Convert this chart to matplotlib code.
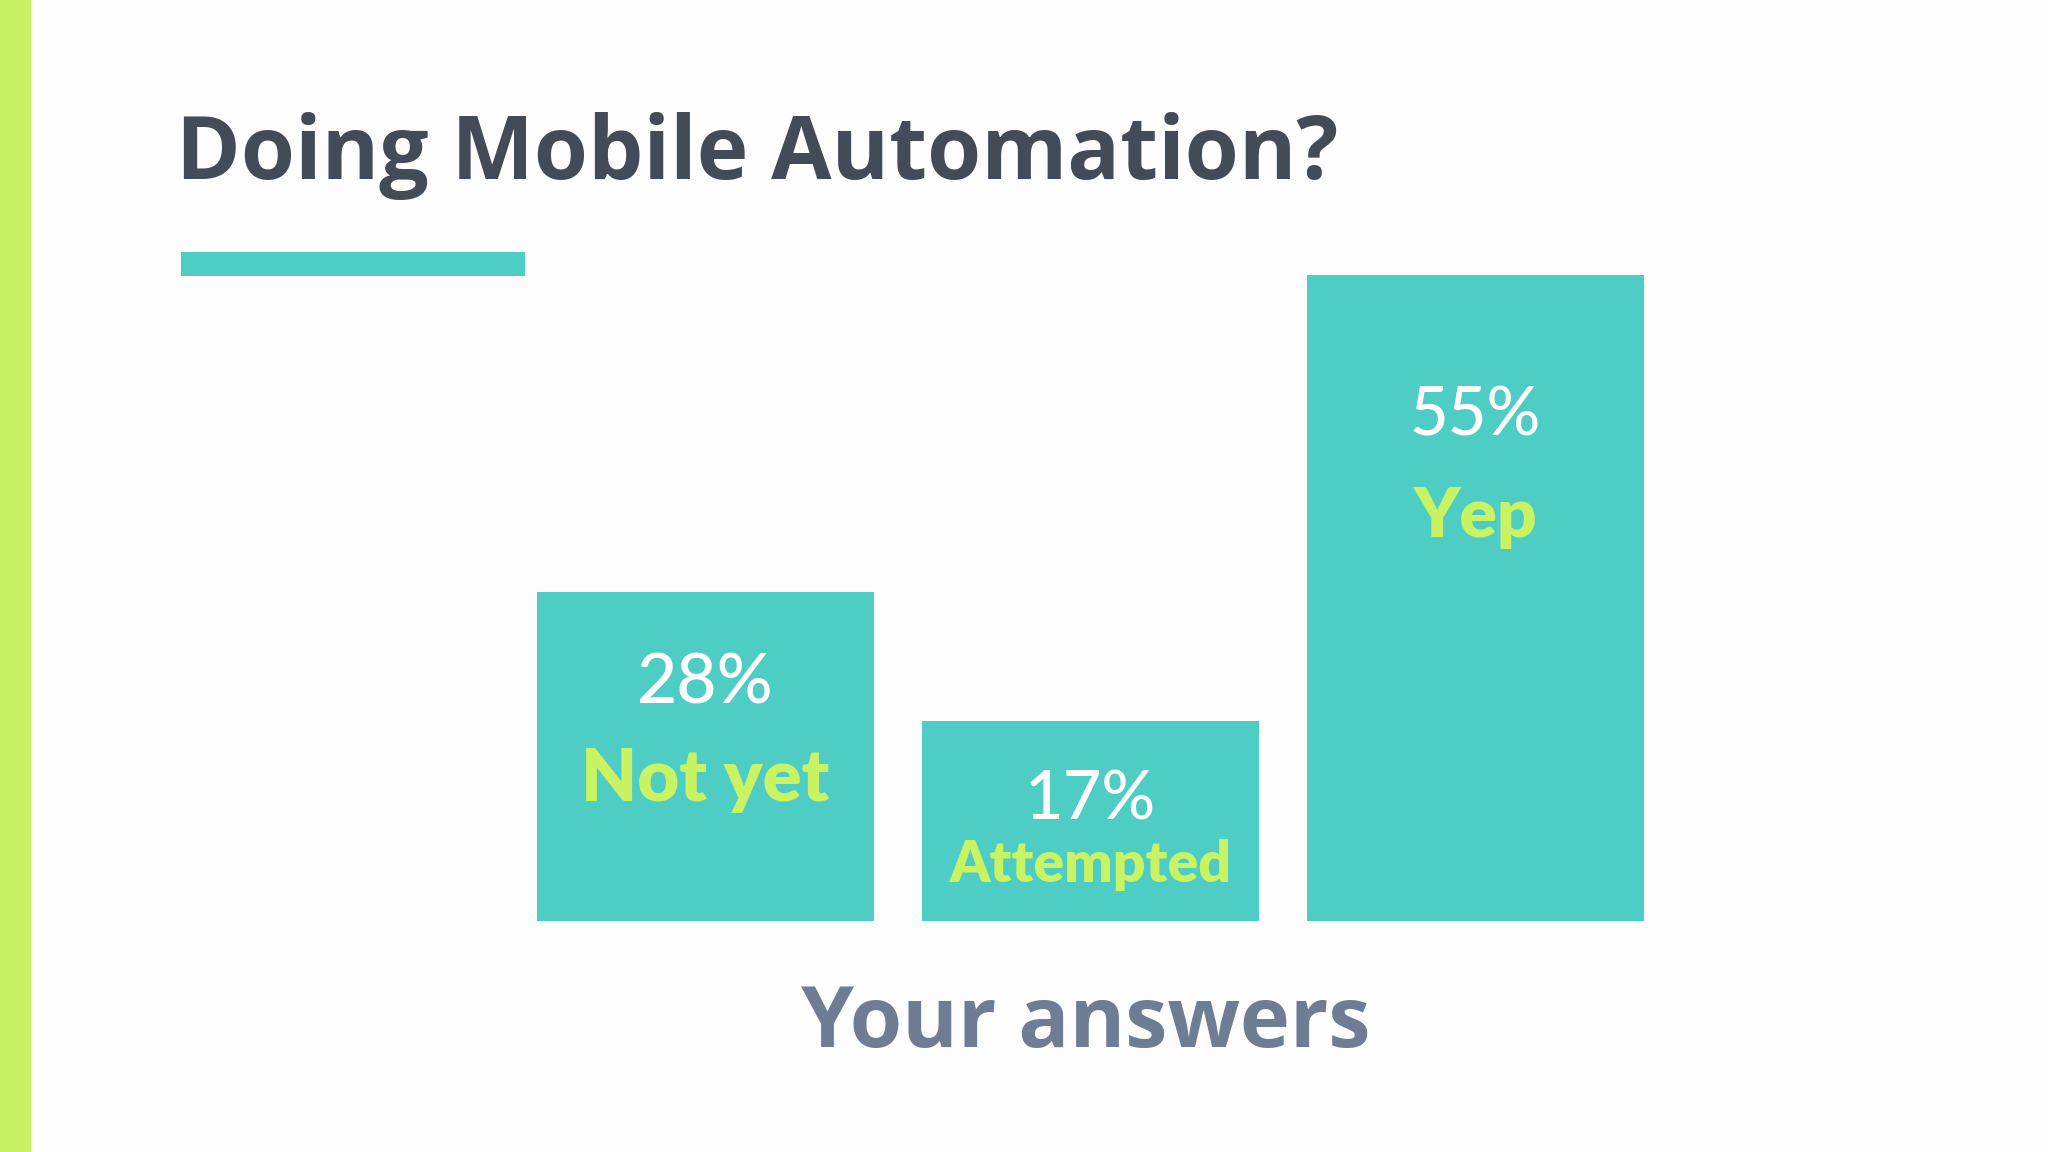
import matplotlib.pyplot as plt
from matplotlib.patches import Rectangle

# survey answers
answers = ["Not yet", "Attempted", "Yep"]
shares = [28, 17, 55]
pct_labels = ["28%", "17%", "55%"]

teal = "#4ecdc4"
lime = "#c9f363"
W, H = 2048, 1152

plt.rcParams["font.family"] = ["Lato", "DejaVu Sans"]
heading_font = ["Open Sans", "Lato", "DejaVu Sans"]

fig = plt.figure(figsize=(W / 100, H / 100), dpi=100)
fig.patch.set_facecolor("#fdfdfd")


def fx(x):
    return x / W


def fy(y):
    return 1 - y / H


# left accent stripe and title underline
fig.add_artist(Rectangle((0, 0), fx(31), 1, transform=fig.transFigure,
                         color=lime, lw=0))
fig.add_artist(Rectangle((fx(181), fy(276)), fx(525) - fx(181), fy(252) - fy(276),
                         transform=fig.transFigure, color=teal, lw=0))

fig.text(fx(176), fy(179), "Doing Mobile Automation?", fontsize=63,
         fontweight="bold", color="#444b58", va="baseline", ha="left",
         family=heading_font)

# bar axes: bottom at y=921px, 11.75 px per percent, 385 px per bar slot
ax_left, ax_w = 513, 1155
ax_bottom, px_per = 921, 11.75
ylim_top = 60
ax = fig.add_axes([fx(ax_left), fy(ax_bottom), ax_w / W, ylim_top * px_per / H])
ax.set_xlim(-0.5, 2.5)
ax.set_ylim(0, ylim_top)
ax.axis("off")

xs = range(len(answers))
ax.bar(xs, shares, width=337 / 385, color=teal)

# label baselines measured from the bar bottom, in pixels
pct_offsets = [218, 102, 486]
name_offsets = [120, 39, 384]
pct_sizes = [50, 48, 48]
name_sizes = [52, 41, 50]

for i in xs:
    ax.annotate(pct_labels[i], xy=(i, 0), xytext=(0, pct_offsets[i]),
                textcoords="offset pixels", ha="center", va="baseline",
                fontsize=pct_sizes[i], color="white", fontweight="medium")
    ax.annotate(answers[i], xy=(i, 0), xytext=(0, name_offsets[i]),
                textcoords="offset pixels", ha="center", va="baseline",
                fontsize=name_sizes[i], color=lime, fontweight="heavy")

fig.text(fx(1086), fy(1047), "Your answers", fontsize=61, fontweight="bold",
         color="#6e7d93", ha="center", va="baseline", family=heading_font)

fig.savefig("out.png", dpi=100, facecolor=fig.get_facecolor())
